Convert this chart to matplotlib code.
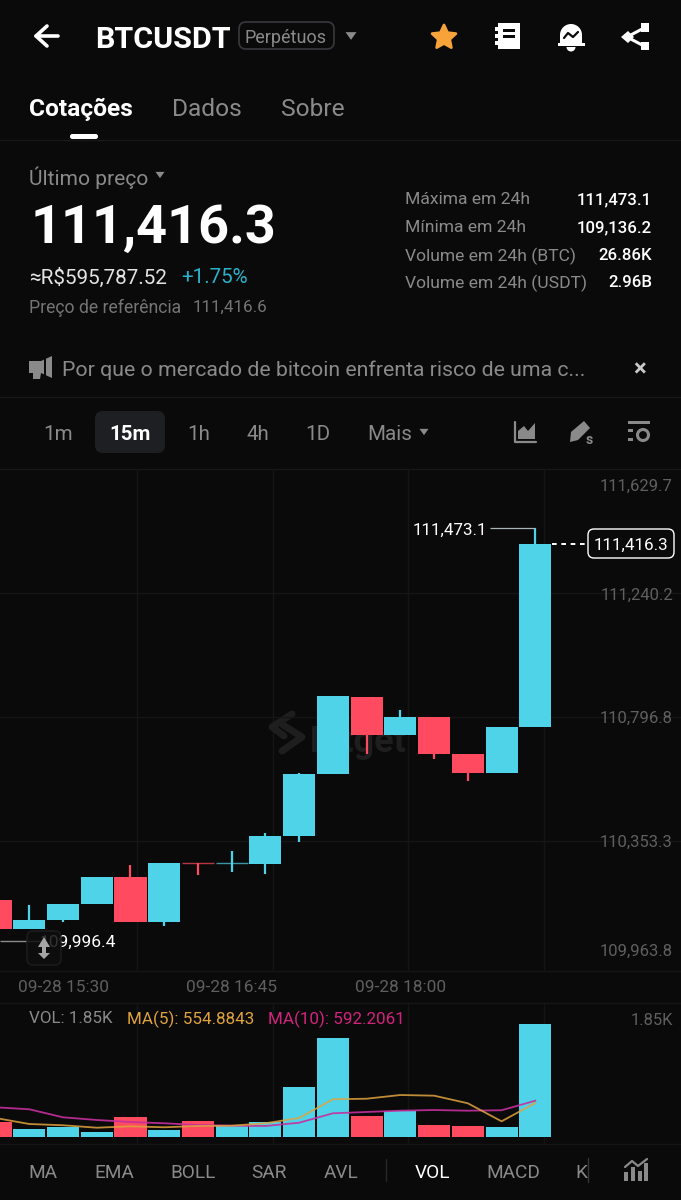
import matplotlib
matplotlib.use("Agg")
import matplotlib.pyplot as plt
from matplotlib import patches
import numpy as np

# candles, oldest first
opens = [110141.8, 110039.1, 110070.3, 110127.5, 110226.3, 110065.3, 110273.6, 110273.6, 110272.8, 110370.9, 110592.8, 110870.5, 110734.5, 110798.9, 110664.4, 110598.5, 110761.0]
closes = [110039.1, 110071.3, 110127.5, 110226.3, 110065.3, 110274.3, 110273.6, 110273.6, 110370.9, 110593.9, 110872.0, 110734.5, 110798.9, 110664.4, 110598.5, 110761.0, 111416.3]
highs = [110141.8, 110123.9, 110127.5, 110226.3, 110268.2, 110274.3, 110273.6, 110319.4, 110381.6, 110597.4, 110874.8, 110870.5, 110821.8, 110798.9, 110664.4, 110761.0, 111473.1]
lows = [110039.1, 110039.1, 110064.2, 110127.5, 110065.3, 110050.9, 110232.4, 110243.1, 110236.0, 110349.4, 110592.8, 110665.5, 110734.5, 110646.5, 110568.8, 110598.5, 110761.0]
is_up = [False, True, True, True, False, True, False, True, True, True, True, False, True, False, False, True, True]

volumes = [242, 132, 165, 77, 319, 105, 253, 181, 242, 813, 1620, 346, 423, 193, 176, 165, 1850]
ma5 = [308, 209, 188, 148, 171, 155, 176, 181, 221, 308, 616, 625, 686, 675, 550, 253, 555]
ma10 = [484, 451, 319, 275, 242, 221, 193, 181, 176, 230, 385, 407, 428, 439, 428, 435, 592]

price_ticks = [111629.7, 111240.2, 110796.8, 110353.3, 109963.8]
grid_prices = [111240.2, 110796.8, 110353.3]
date_idx = [2, 7, 12]
date_labels = ["09-28 15:30", "09-28 16:45", "09-28 18:00"]

stats_names = ["Máxima em 24h", "Mínima em 24h", "Volume em 24h (BTC)", "Volume em 24h (USDT)"]
stats_values = ["111,473.1", "109,136.2", "26.86K", "2.96B"]
timeframes = ["1m", "15m", "1h", "4h", "1D"]
indicators = ["MA", "EMA", "BOLL", "SAR", "AVL", "VOL", "MACD", "K"]

BG = "#0a0a0a"
CYAN = "#4fd3e8"
RED = "#ff4a5f"
GRAY = "#8a8a8a"
DIM = "#5f5f5f"
GRID = "#151515"
W, H = 681, 1200
X_LIM = (0.1313, 20.32)


def px_axes(fig, top, bottom, zorder):
    ax = fig.add_axes([0, 1 - bottom / H, 1, (bottom - top) / H], zorder=zorder)
    ax.patch.set_alpha(0)
    ax.axis("off")
    return ax


def txt(ax, x, y, s, size, color=GRAY, ha="left", weight="normal", **kw):
    # size is the em height in pixels of the 100 dpi figure
    return ax.text(x, y, s, fontsize=size * 0.72, color=color, ha=ha, va="center_baseline",
                   fontweight=weight, family="Roboto", **kw)


def tri(ax, x, y, r=4.5, color=GRAY):
    ax.add_patch(patches.Polygon([(x - r, y - r * 0.7), (x + r, y - r * 0.7), (x, y + r * 0.7)], color=color, lw=0))


def rect(ax, x0, y0, x1, y1, color, lw=0):
    ax.add_patch(patches.Rectangle((x0, y0), x1 - x0, y1 - y0, color=color, lw=lw))


def line(ax, xs, ys, color="white", lw=2.0, **kw):
    ax.plot(xs, ys, color=color, lw=lw, solid_capstyle="round", solid_joinstyle="round", **kw)


def draw_star(ax, cx, cy, r_out, r_in, color):
    angles = np.arange(10) * np.pi / 5
    radii = [r_out if k % 2 == 0 else r_in for k in range(10)]
    pts = [(cx + r * np.sin(a), cy - r * np.cos(a)) for r, a in zip(radii, angles)]
    ax.add_patch(patches.Polygon(pts, fc=color, ec=color, lw=2, joinstyle="round"))


def draw_header(ax):
    line(ax, [58, 36, 47], [36, 36, 26], lw=2.6)
    line(ax, [36, 47], [36, 46], lw=2.6)
    txt(ax, 95, 37, "BTCUSDT", 30.5, "white", weight="bold")
    ax.add_patch(patches.FancyBboxPatch((239, 22), 95, 27, boxstyle="round,pad=0,rounding_size=7",
                                        fc="none", ec="#33363a", lw=1.3))
    txt(ax, 245, 36, "Perpétuos", 18, GRAY)
    tri(ax, 351, 36, 5.5)
    draw_star(ax, 444, 37.5, 12.5, 6, "#f7a33a")

    # notebook
    rect(ax, 498, 23, 520, 49, "white")
    rect(ax, 495, 27, 499, 31, "white")
    rect(ax, 495, 34, 499, 38, "white")
    rect(ax, 495, 41, 499, 45, "white")
    rect(ax, 503, 29, 515, 32, BG)
    rect(ax, 503, 35, 515, 38, BG)
    # bell
    ax.add_patch(patches.Wedge((571, 35), 11, 180, 360, color="white", lw=0))
    rect(ax, 560, 35, 582, 44, "white")
    rect(ax, 558, 43, 585, 46, "white")
    ax.add_patch(patches.Wedge((571, 47), 4.5, 0, 180, color="white", lw=0))
    line(ax, [564, 568, 573, 578], [38, 33, 37, 32], color=BG, lw=1.6)
    # share
    line(ax, [644, 627, 644], [28, 37, 46], lw=2.2)
    ax.add_patch(patches.Polygon([(621, 37), (628, 31), (634, 37), (628, 43)], color="white", lw=0))
    rect(ax, 641, 23, 649, 32, "white")
    rect(ax, 641, 42, 649, 50, "white")

    txt(ax, 29, 107, "Cotações", 24.5, "white", weight="bold")
    txt(ax, 172, 107, "Dados", 24.5, GRAY)
    txt(ax, 281, 107, "Sobre", 24.5, GRAY)
    ax.add_patch(patches.FancyBboxPatch((70, 134), 28, 5, boxstyle="round,pad=0,rounding_size=2.4", color="white", lw=0))
    line(ax, [0, W], [139.5, 139.5], color="#17181a", lw=1)


def draw_summary(ax):
    txt(ax, 29, 176, "Último preço", 21, GRAY)
    tri(ax, 160, 175, 4.5)
    txt(ax, 31, 223, "111,416.3", 54, "white", weight="bold")
    txt(ax, 29, 275.5, "≈R$595,787.52", 20.7, "#e4e4e4")
    txt(ax, 181, 275.5, "+1.75%", 20.5, "#2bb2cb")
    txt(ax, 29, 306, "Preço de referência", 17.6, "#747474")
    txt(ax, 193, 306, "111,416.6", 17, "#747474")
    for y, name, value in zip([198, 226, 254, 281], stats_names, stats_values):
        txt(ax, 405, y, name, 17.5, GRAY)
        txt(ax, 652, y, value, 16.8, "white", ha="right", weight="medium")

    # megaphone
    ax.add_patch(patches.Polygon([(29, 361), (41, 361), (52, 356), (52, 378), (41, 373), (40, 379), (33, 379), (33, 373), (29, 373)],
                                 color=GRAY, lw=0))
    rect(ax, 44, 358, 46, 376, BG)
    txt(ax, 62, 368, "Por que o mercado de bitcoin enfrenta risco de uma c...", 21.3, GRAY)
    txt(ax, 640, 367, "×", 24, "#c8c8c8", ha="center", weight="bold")
    line(ax, [0, W], [396.5, 396.5], color="#17181a", lw=1)


def draw_toolbar(ax):
    ax.add_patch(patches.FancyBboxPatch((95, 411), 70, 42, boxstyle="round,pad=0,rounding_size=8", color="#1e1f22", lw=0))
    for x, label in zip([58, 130, 199, 258, 318], timeframes):
        on = label == "15m"
        txt(ax, x, 432, label, 20.5, "white" if on else GRAY, ha="center", weight="bold" if on else "normal")
    txt(ax, 367, 432, "Mais", 20.5, GRAY)
    tri(ax, 424, 432, 4.5)

    # area chart icon
    line(ax, [515, 515, 536], [422, 442, 442], color=GRAY, lw=1.6)
    ax.add_patch(patches.Polygon([(518, 439), (518, 431), (524, 426), (528, 431), (535, 423), (535, 439)], color=GRAY, lw=0))
    # pencil icon
    ax.add_patch(patches.Polygon([(570, 442), (571, 432), (584, 421), (590, 428), (578, 440)], color=GRAY, lw=0))
    txt(ax, 589, 438, "s", 14, GRAY, ha="center", weight="bold")
    # settings icon
    rect(ax, 628, 421, 650, 424, GRAY)
    rect(ax, 628, 429, 633, 432, GRAY)
    rect(ax, 628, 438, 633, 441, GRAY)
    ax.add_patch(patches.Circle((643, 435), 5.5, fc="none", ec=GRAY, lw=2.2))
    line(ax, [0, W], [468.5, 468.5], color="#17181a", lw=1)


def draw_background(ax):
    for x in [137, 273, 408, 544]:
        line(ax, [x, x], [469, 970], color=GRID, lw=1)
        line(ax, [x, x], [1003, 1143], color=GRID, lw=1)
    line(ax, [0, W], [970.5, 970.5], color=GRID, lw=1)
    line(ax, [0, W], [1002.5, 1002.5], color=GRID, lw=1)
    line(ax, [0, W], [1143.5, 1143.5], color=GRID, lw=1)

    # watermark
    wm = "#1e1e1e"
    line(ax, [292, 272, 284], [714, 727, 736], color=wm, lw=5)
    line(ax, [283, 302, 282], [725, 737, 751], color=wm, lw=5)
    txt(ax, 310, 738, "Bitget", 36, wm, weight="bold")


def draw_price(ax):
    ax.set_xlim(*X_LIM)
    ax.set_ylim(109892.4, 111685.5)
    for p in grid_prices:
        ax.axhline(p, color=GRID, lw=1, zorder=0)

    xs = list(range(len(opens)))
    colors = [CYAN if up else RED for up in is_up]
    ax.vlines(xs, lows, highs, colors=colors, lw=1.6, zorder=2)
    for i in xs:
        bottom = min(opens[i], closes[i])
        height = abs(closes[i] - opens[i])
        if height == 0:
            ax.hlines(opens[i], i - 0.475, i + 0.475, colors=colors[i], lw=1, alpha=0.7, zorder=2)
        else:
            ax.bar(i, height, bottom=bottom, width=0.95, color=colors[i], lw=0, zorder=3)

    for p in price_ticks:
        ax.text(20.08, p, f"{p:,.1f}", fontsize=16.6 * 0.72, color=DIM, ha="right", va="center_baseline", family="Roboto")

    # high marker, last price label, low marker
    hi = max(highs)
    ax.hlines(hi, 14.66, 16, colors="#a8b6b9", lw=0.9, zorder=2)
    ax.text(14.57, hi, f"{hi:,.1f}", fontsize=17 * 0.72, color="white", ha="right", va="center_baseline", family="Roboto")
    last = closes[-1]
    ax.hlines(last, 16.5, 17.5, colors="white", lw=1.4, linestyles=(0, (2.4, 2.4)), zorder=2)
    ax.text(18.84, last, f"{last:,.1f}", fontsize=17 * 0.72, color="white", ha="center", va="center_baseline", family="Roboto")
    ax.hlines(109996.4, X_LIM[0], 1.47, colors="#8c8c8c", lw=1)
    ax.text(3.57, 109996.4, "109,996.4", fontsize=17.4 * 0.72, color="white", ha="right", va="center_baseline", family="Roboto")

    for i, label in zip(date_idx, date_labels):
        ax.annotate(label, (i, 0), xycoords=("data", "axes fraction"), xytext=(0, -16), textcoords="offset pixels",
                    fontsize=17.2 * 0.72, color=DIM, ha="center", va="center_baseline", family="Roboto")


def draw_volume(ax):
    ax.set_xlim(*X_LIM)
    ax.set_ylim(-103.7, 2200)
    xs = list(range(len(volumes)))
    colors = [CYAN if up else RED for up in is_up]
    ax.bar(xs, volumes, width=0.95, color=colors, lw=0, zorder=2)
    ax.plot(xs, ma10, color="#c52f9e", lw=1.3, alpha=0.9, zorder=3)
    ax.plot(xs, ma5, color="#e0a33e", lw=1.3, alpha=0.85, zorder=4)


def draw_bottom(ax):
    txt(ax, 29, 1017, "VOL: 1.85K", 17, GRAY)
    txt(ax, 127, 1017, "MA(5): 554.8843", 17, "#e0a33e")
    txt(ax, 268, 1017, "MA(10): 592.2061", 17, "#d4237f")
    txt(ax, 673, 1019, "1.85K", 16.5, DIM, ha="right")

    for x, label in zip([43, 114, 193, 269, 341, 432, 513, 581], indicators):
        txt(ax, x, 1171, label, 19, "white" if label == "VOL" else GRAY, ha="center")
    line(ax, [386, 386], [1159, 1181], color="#26282b", lw=1)
    rect(ax, 588, 1158, 600, 1184, BG)
    line(ax, [588, 588], [1158, 1182], color="#33363a", lw=1)

    # indicator icon
    for x, top_y in zip([626, 633, 640, 646], [1172, 1167, 1171, 1163]):
        rect(ax, x - 2, top_y, x + 2, 1181, GRAY)
    line(ax, [625, 632, 638, 647], [1167, 1161, 1166, 1159], color=GRAY, lw=1.6)


def draw_overlay(ax):
    # box round the last price
    ax.add_patch(patches.FancyBboxPatch((588, 529), 86, 29, boxstyle="round,pad=0,rounding_size=6", fc="none", ec="white", lw=1))
    # scroll button over the low marker
    ax.add_patch(patches.FancyBboxPatch((27, 931), 34, 34, boxstyle="round,pad=0,rounding_size=6", fc="#0e0e0e", ec="#1d1e20", lw=1.2, alpha=0.85))
    for base, tip in [(947, 937), (953, 959)]:
        ax.add_patch(patches.Polygon([(38, base), (50, base), (44, tip)], color="#a6a6a6", lw=0))
    rect(ax, 42, 943, 46, 956, "#a6a6a6")


fig = plt.figure(figsize=(W / 100, H / 100), dpi=100, facecolor=BG)

ui = px_axes(fig, 0, H, 0)
ui.set_xlim(0, W)
ui.set_ylim(H, 0)
draw_header(ui)
draw_summary(ui)
draw_toolbar(ui)
draw_background(ui)
draw_bottom(ui)

ax_price = px_axes(fig, 469, 970, 1)
draw_price(ax_price)
ax_vol = px_axes(fig, 1003, 1143, 1)
draw_volume(ax_vol)

top = px_axes(fig, 0, H, 2)
top.set_xlim(0, W)
top.set_ylim(H, 0)
draw_overlay(top)

fig.savefig("out.png", dpi=100, facecolor=BG)
plt.close(fig)
